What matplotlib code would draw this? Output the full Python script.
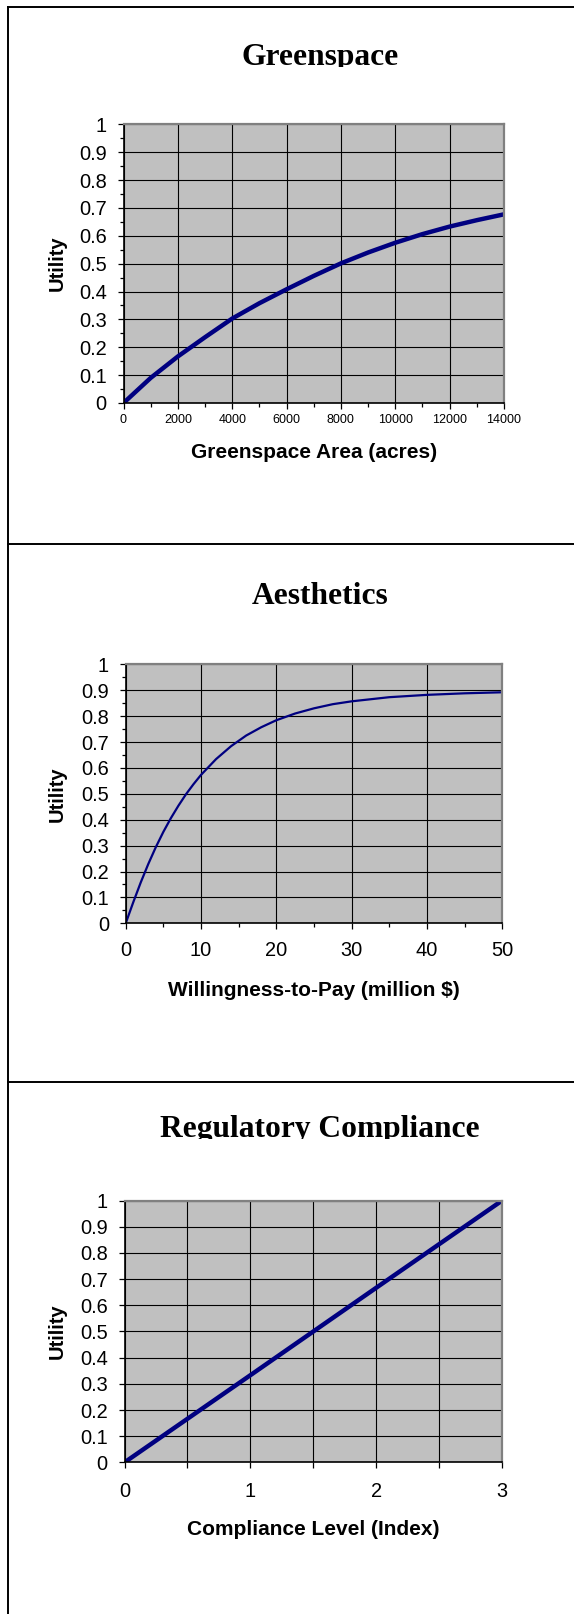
import matplotlib.pyplot as plt
from matplotlib.ticker import MultipleLocator, FuncFormatter
from matplotlib.transforms import Bbox, TransformedBbox
from matplotlib.lines import Line2D

# Greenspace: utility vs area (acres)
green_area = [0, 1000, 2000, 3000, 4000, 5000, 6000, 7000, 8000,
              9000, 10000, 11000, 12000, 13000, 14000]
green_util = [0, 0.09, 0.167, 0.236, 0.303, 0.358, 0.408, 0.456, 0.501,
              0.540, 0.575, 0.606, 0.633, 0.656, 0.677]

# Aesthetics: utility vs willingness-to-pay (million $)
wtp = [0, 1, 2, 3, 4, 5, 6, 7, 8, 9, 10, 12, 14, 16, 18, 20,
       22.5, 25, 27.5, 30, 35, 40, 45, 50]
wtp_util = [0, 0.081, 0.158, 0.229, 0.294, 0.353, 0.406, 0.454, 0.498,
            0.537, 0.573, 0.634, 0.684, 0.725, 0.757, 0.784,
            0.810, 0.830, 0.846, 0.857, 0.873, 0.882, 0.888, 0.892]

# Regulatory compliance: linear utility
compliance = [0, 1, 2, 3]
compliance_util = [0, 0.333, 0.667, 1]

W, H = 574, 1614
NAVY = '#000080'
SANS = 'Liberation Sans'

fig = plt.figure(figsize=(W / 100, H / 100), dpi=100)


def rect(l, t, r, b):
    # pixel box -> figure fraction [left, bottom, width, height]
    return [l / W, 1 - b / H, (r - l) / W, (b - t) / H]


def fig_line(x, y):
    fig.add_artist(Line2D(x, y, transform=fig.transFigure, color='black', lw=1.4))


# page frame
fig_line([8 / W, 1], [1 - 7 / H, 1 - 7 / H])
fig_line([8 / W, 8 / W], [1 - 7 / H, 0])
for ysep in (544, 1082):
    fig_line([8 / W, 1], [1 - ysep / H, 1 - ysep / H])


def title(text, baseline):
    t = fig.text(320 / W, 1 - baseline / H, text, ha='center', va='baseline',
                 family='Liberation Serif', fontweight='bold', fontsize=22.7)
    clip = baseline + 1.8
    t.set_clip_box(TransformedBbox(Bbox([[0, 1 - clip / H], [1, 1]]), fig.transFigure))
    t.set_clip_on(True)


def panel(box, x, y, lw, xmax, xmajor, xminor, xlabel, xlab_dist,
          xtick_size, xpad, yminor=True, int_labels=False):
    ax = fig.add_axes(rect(*box))
    axw = box[2] - box[0]
    axh = box[3] - box[1]
    ax.plot(x, y, color=NAVY, lw=lw, solid_capstyle='butt', solid_joinstyle='round')
    ax.set_xlim(0, xmax)
    ax.set_ylim(0, 1)
    ax.set_facecolor('#c0c0c0')
    ax.set_axisbelow(True)
    ax.grid(True, which='major', color='black', lw=0.8)
    for s in ('top', 'right'):
        ax.spines[s].set_color('#808080')
        ax.spines[s].set_linewidth(1.6)
    for s in ('left', 'bottom'):
        ax.spines[s].set_color('black')
        ax.spines[s].set_linewidth(1.2)

    ax.yaxis.set_major_locator(MultipleLocator(0.1))
    if yminor:
        ax.yaxis.set_minor_locator(MultipleLocator(0.05))
    ax.yaxis.set_major_formatter(FuncFormatter(lambda v, p: '%g' % round(v, 1)))
    ax.xaxis.set_major_locator(MultipleLocator(xmajor))
    if xminor:
        ax.xaxis.set_minor_locator(MultipleLocator(xminor))
    if int_labels:
        ax.xaxis.set_major_formatter(
            FuncFormatter(lambda v, p: '%d' % round(v) if abs(v - round(v)) < 1e-6 else ''))
    else:
        ax.xaxis.set_major_formatter(FuncFormatter(lambda v, p: '%d' % round(v)))

    ax.tick_params(which='major', direction='out', length=4.5, width=0.9, color='black')
    ax.tick_params(which='minor', direction='out', length=3, width=0.9, color='black')
    ax.tick_params(axis='y', which='major', labelsize=14.4, pad=7.6)
    ax.tick_params(axis='x', which='major', labelsize=xtick_size, pad=xpad)
    for lab in ax.get_xticklabels() + ax.get_yticklabels():
        lab.set_family(SANS)

    ax.set_xlabel(xlabel, family=SANS, fontweight='bold', fontsize=15, va='center')
    ax.xaxis.set_label_coords(0.5, -xlab_dist / axh)
    ax.set_ylabel('Utility', family=SANS, fontweight='bold', fontsize=14.5, va='center')
    ax.yaxis.set_label_coords(-(box[0] - 57) / axw, 0.5)
    return ax


title('Greenspace', 65)
panel((123.5, 124.3, 504, 403), green_area, green_util, 3.2, 14000, 2000, 1000,
      'Greenspace Area (acres)', 50, 9, 3.7)

title('Aesthetics', 603.7)
panel((125.7, 664.3, 502.2, 923.3), wtp, wtp_util, 1.6, 50, 10, 5,
      'Willingness-to-Pay (million $)', 67.7, 14.4, 8.6)

title('Regulatory Compliance', 1137.5)
panel((124.5, 1200.5, 502.2, 1462.4), compliance, compliance_util, 3.2, 3, 0.5, None,
      'Compliance Level (Index)', 67, 14.4, 9.5, yminor=False, int_labels=True)

fig.savefig('out.png', dpi=100, facecolor='white')
